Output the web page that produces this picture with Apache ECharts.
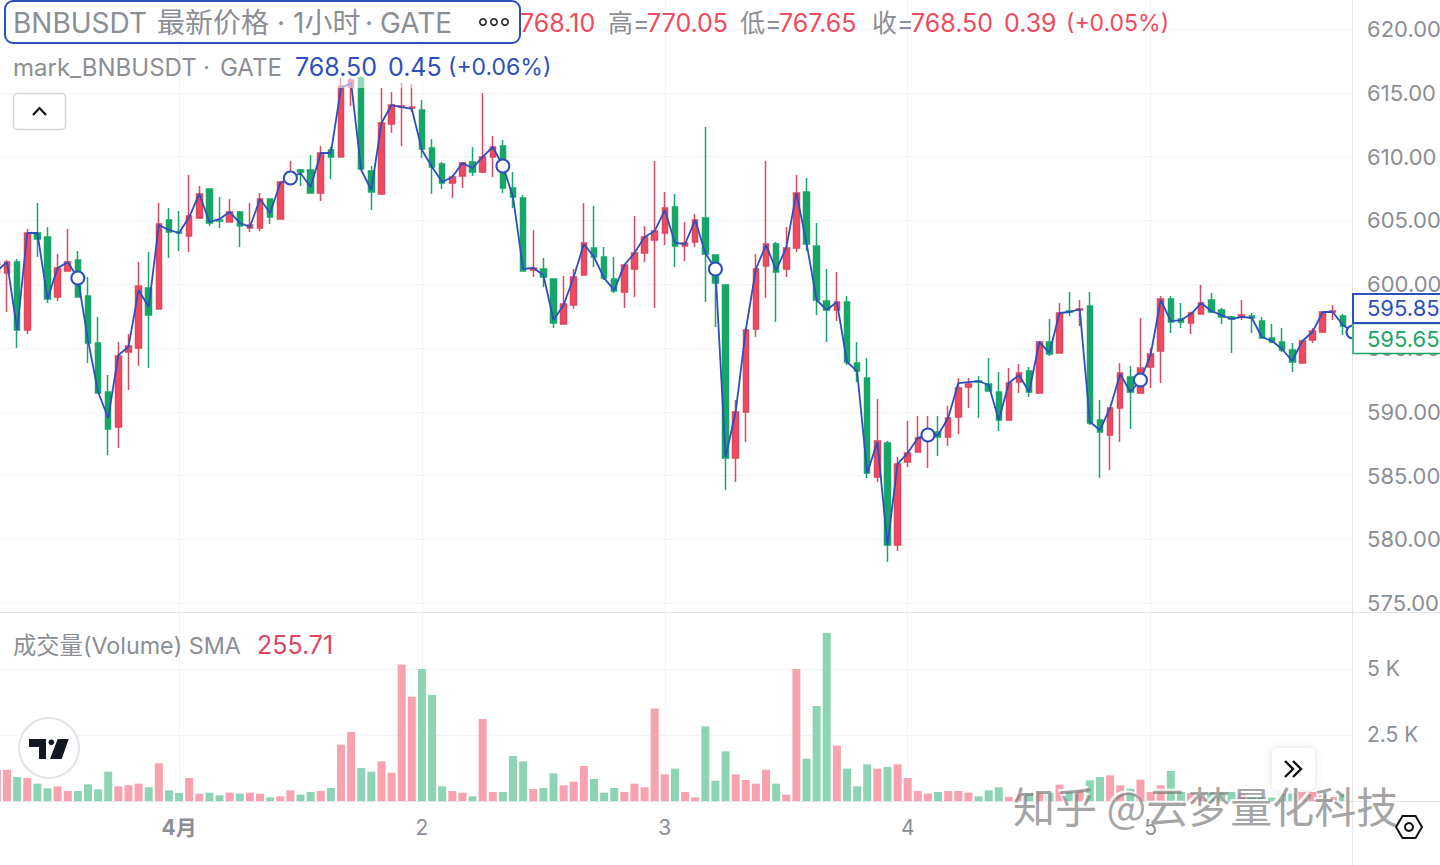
<!DOCTYPE html>
<html>
<head>
<meta charset="utf-8">
<title>BNBUSDT</title>
<style>
  html, body { margin: 0; padding: 0; background: #fff; overflow: hidden; }
  #chart { width: 1440px; height: 865px; }
</style>
<script src="https://cdn.jsdelivr.net/npm/echarts@6/dist/echarts.min.js"></script>
</head>
<body>
<div id="chart"></div>
<script>
// one entry per hour
var opens = [
  600.95,600.87,601.73,596.41,604.01,603.70,598.99,601.03,601.89,599.07,595.39,591.55,588.81,594.68,595.00,599.70,598.05,605.03,604.09,603.77,
  605.19,607.46,605.03,604.87,605.66,604.40,604.40,606.67,605.11,607.85,608.95,608.95,607.14,610.51,609.97,615.45,616.16,608.87,607.07,612.55,
  613.88,613.81,613.65,610.67,609.42,607.93,608.48,609.57,608.79,609.97,610.83,607.54,606.75,601.11,601.19,600.40,596.88,598.37,600.72,602.84,
  602.13,600.40,599.38,601.19,602.44,603.46,604.01,606.05,602.99,603.30,605.19,602.29,599.93,586.38,589.98,596.49,601.42,603.15,601.19,602.84,
  607.22,602.99,598.68,597.98,598.60,593.82,592.65,584.89,587.55,579.56,586.06,586.85,587.95,588.41,588.03,589.59,591.94,592.41,592.18,591.55,
  589.35,592.33,593.19,591.47,595.47,594.61,597.90,597.98,598.29,589.35,588.18,590.30,592.73,591.47,593.51,594.76,598.84,597.27,596.96,597.66,
  598.76,597.98,597.43,597.43,597.51,597.11,595.78,595.47,594.84,593.82,595.62,596.25,597.82,597.51
];
var closes = [
  601.73,601.73,596.41,604.01,603.54,598.84,601.27,601.73,598.99,595.39,591.47,588.65,594.37,595.15,599.86,597.58,604.72,604.09,604.01,605.34,
  607.07,604.80,604.95,605.66,604.56,604.64,606.67,605.26,608.01,608.79,608.79,607.14,610.28,609.97,615.53,616.00,609.03,607.22,612.63,614.04,
  613.96,613.88,610.59,609.18,607.93,608.40,609.50,608.79,609.97,610.75,607.54,606.83,601.03,601.27,600.56,596.96,598.45,600.56,603.23,602.13,
  600.48,599.46,601.50,602.44,603.70,604.17,605.97,602.99,603.23,605.03,602.37,600.09,586.38,589.98,596.41,601.19,603.15,600.95,602.84,607.14,
  603.15,598.76,597.98,598.60,593.90,593.19,585.20,587.71,579.56,585.91,586.77,587.95,588.41,588.03,589.51,591.87,592.18,592.33,591.63,589.35,
  592.25,593.04,591.55,595.47,594.53,597.74,597.82,598.05,589.12,588.41,590.30,593.04,591.55,593.43,594.53,598.84,597.03,597.03,597.74,598.52,
  597.82,597.43,597.27,597.58,597.35,595.78,595.47,594.84,593.90,595.55,596.33,597.82,597.90,596.72
];
var lows = [
  600.80,597.82,595.00,596.10,602.13,598.52,598.68,601.00,598.95,593.82,591.45,586.61,587.16,591.71,593.59,593.43,598.00,602.05,602.60,602.52,
  605.11,604.56,604.40,604.85,602.91,604.09,604.17,604.72,605.10,607.77,607.69,607.10,606.52,608.24,609.95,613.96,608.95,605.81,607.05,611.85,
  610.83,613.49,609.89,607.07,607.46,606.75,607.54,608.48,608.71,608.40,607.14,605.97,601.00,600.56,599.78,596.57,596.85,598.05,600.70,601.34,
  600.33,599.31,598.13,598.99,601.73,598.13,603.07,601.34,601.81,602.91,598.60,596.64,583.87,584.49,587.63,595.86,598.92,597.03,600.56,602.52,
  602.60,597.58,595.47,597.11,593.67,592.33,584.81,584.49,578.23,579.09,585.67,586.83,585.60,586.53,587.32,588.26,590.30,589.51,591.60,588.49,
  589.33,591.47,591.16,591.45,594.37,594.60,597.51,596.72,588.96,584.81,585.44,587.63,588.65,591.45,591.86,592.25,596.17,596.57,596.10,597.63,
  597.74,596.88,594.61,597.19,596.17,595.75,595.39,594.68,593.12,593.80,595.39,596.22,597.19,596.02
];
var highs = [
  601.89,601.89,601.97,604.33,606.36,604.48,602.37,604.33,602.60,600.56,597.43,592.88,595.47,596.10,601.73,602.52,606.36,605.97,605.73,608.55,
  607.69,607.50,606.83,606.67,605.73,606.36,607.14,606.70,608.09,609.65,609.03,610.12,610.83,610.75,616.16,616.16,616.31,609.26,615.37,615.06,
  615.77,615.69,614.43,611.38,609.57,608.55,609.57,610.75,614.98,611.61,611.30,608.79,606.99,604.25,602.05,600.45,600.64,601.19,606.36,606.12,
  602.91,602.13,601.55,605.34,604.56,609.65,607.22,607.07,604.87,605.50,612.32,602.30,599.95,590.92,596.57,602.37,609.65,603.30,604.48,608.55,
  608.32,604.80,601.19,600.95,599.07,595.47,594.21,591.00,587.71,586.46,589.27,589.67,589.67,589.67,590.45,592.65,592.65,592.80,594.21,593.12,
  593.43,593.74,593.51,595.55,597.27,598.52,599.38,598.76,599.38,590.92,590.32,593.82,593.59,597.35,595.00,599.07,599.07,598.52,597.85,599.93,
  599.31,598.13,597.50,598.76,597.74,597.43,596.88,596.57,595.39,595.62,596.57,597.85,598.37,597.66
];
// mark price, has one more point than the candles
var markPrice = [
  601.03,601.73,596.41,604.01,604.01,598.84,601.27,601.73,600.48,595.62,591.55,589.51,594.45,595.08,599.54,598.21,604.64,604.25,604.01,605.26,
  607.07,604.87,605.11,605.66,604.80,604.48,606.67,605.58,607.93,608.32,608.71,607.62,610.28,610.28,615.37,615.77,608.95,607.38,612.63,614.04,
  613.88,613.73,610.51,609.18,608.01,608.40,609.50,609.10,609.97,610.75,609.26,606.83,601.19,601.27,600.72,597.19,598.37,600.56,603.15,602.13,
  600.48,599.54,601.50,602.44,603.70,604.17,605.81,603.23,603.15,605.03,602.44,601.19,586.46,589.98,596.41,601.19,603.07,601.11,602.84,607.14,
  603.23,598.76,597.98,598.60,593.90,593.19,585.20,587.63,579.56,585.91,586.77,587.95,588.18,588.18,589.51,592.25,592.33,592.41,592.10,589.35,
  592.25,592.88,591.55,595.47,594.61,597.74,597.82,598.05,589.20,588.57,590.30,592.96,591.55,592.49,594.45,598.76,597.11,597.19,597.66,598.52,
  597.90,597.58,597.27,597.43,597.35,595.86,595.55,594.92,593.98,595.55,596.25,597.82,597.82,596.80,596.25
];
var volumes = [
  1187,1187,909,871,657,480,556,379,379,632,442,1111,556,594,657,518,1427,404,303,871,
  278,316,215,316,278,316,278,139,177,404,240,341,379,493,2134,2614,1250,1111,1503,1074,
  5166,3953,5001,4016,556,379,316,177,3107,341,341,1705,1503,455,493,1048,594,733,1326,834,
  316,493,341,657,518,3499,1010,1225,341,139,2829,770,1882,1010,796,657,1187,657,240,5001,
  1604,3600,6366,2097,1225,556,1389,1225,1288,1389,871,379,278,341,379,379,316,177,404,518,
  152,253,316,316,316,619,379,404,783,909,973,594,467,808,341,594,1137,341,303,278,
  341,341,341,278,152,152,126,278,278,341,341,215,152,278
];
var priceTicks = [575, 580, 585, 590, 595, 600, 605, 610, 615, 620];
var volumeTicks = [2500, 5000];
var dayLabels = { 18: '4月', 42: '2', 66: '3', 90: '4', 114: '5' };
var markerEvery = 21;
var markerStart = 8;

var red = '#ef4a60';
var green = '#18a668';
var redWick = '#dc4860';
var redSoft = '#f7a2ae';
var greenSoft = '#8dd4b5';
var blue = '#2d4fbd';
var gridColor = '#f3f4f6';
var edgeColor = '#e6e7ea';
var muted = '#8b8e94';
var font = 'Inter, "Noto Sans CJK SC", sans-serif';

var categories = [];
for (var i = 0; i < markPrice.length; i++) {
  categories.push(dayLabels[i] || '');
}
var candles = opens.map(function(o, i) {
  return [o, closes[i], lows[i], highs[i]];
});
var volumeBars = volumes.map(function(v, i) {
  return { value: v, itemStyle: { color: closes[i] >= opens[i] ? redSoft : greenSoft } };
});
function isDay(index) {
  return dayLabels[index] !== undefined;
}

function label(x, y, text, color, size, z) {
  return {
    type: 'text',
    z: z || 120,
    silent: true,
    style: { x: x, y: y, text: text, fill: color, font: (size || 25) + 'px ' + font, verticalAlign: 'middle' }
  };
}
function dot(cx) {
  return { type: 'circle', z: 126, silent: true, shape: { cx: cx, cy: 22, r: 3.2 }, style: { fill: '#fff', stroke: '#222', lineWidth: 1.6 } };
}

var chart = echarts.init(document.getElementById('chart'), null, { renderer: 'svg' });
chart.setOption({
  animation: false,
  backgroundColor: '#fff',
  grid: [
    { left: -8.16, top: 0, width: 1366.2, height: 612, outerBoundsMode: 'none' },
    { left: -8.16, top: 613, width: 1366.2, height: 188, outerBoundsMode: 'none' }
  ],
  xAxis: [0, 1].map(function(n) {
    return {
      type: 'category',
      gridIndex: n,
      data: categories,
      axisTick: { show: false },
      axisLine: { show: false },
      splitLine: {
        show: true,
        alignWithLabel: true,
        interval: isDay,
        lineStyle: { color: gridColor, width: 1 }
      },
      axisLabel: n === 0 ? { show: false } : {
        show: true,
        interval: isDay,
        margin: 16,
        color: muted,
        fontSize: 21,
        fontFamily: font,
        formatter: function(v) {
          return v === '4月' ? '{b|4月}' : v;
        },
        rich: { b: { fontWeight: 700, fontSize: 21, color: muted, fontFamily: font } }
      }
    };
  }),
  yAxis: [
    {
      type: 'value',
      gridIndex: 0,
      position: 'right',
      min: 574.31,
      max: 622.27,
      axisLine: { show: false },
      axisTick: { show: false, customValues: priceTicks },
      splitLine: { show: true, lineStyle: { color: gridColor, width: 1 } },
      axisLabel: {
        customValues: priceTicks,
        margin: 9,
        color: muted,
        fontSize: 22,
        fontFamily: font,
        formatter: function(v) { return v.toFixed(2); }
      }
    },
    {
      type: 'value',
      gridIndex: 1,
      position: 'right',
      min: 0,
      max: 7121,
      axisLine: { show: false },
      axisTick: { show: false, customValues: volumeTicks },
      splitLine: { show: true, lineStyle: { color: gridColor, width: 1 } },
      axisLabel: {
        customValues: volumeTicks,
        margin: 9,
        color: muted,
        fontSize: 21,
        fontFamily: font,
        formatter: function(v) { return (v / 1000) + ' K'; }
      }
    }
  ],
  series: [
    {
      type: 'candlestick',
      xAxisIndex: 0,
      yAxisIndex: 0,
      barWidth: 6,
      data: candles,
      itemStyle: {
        color: red,
        color0: green,
        borderColor: redWick,
        borderColor0: green,
        borderWidth: 1.5
      }
    },
    {
      type: 'line',
      xAxisIndex: 0,
      yAxisIndex: 0,
      data: markPrice,
      showAllSymbol: true,
      symbol: function(v, params) {
        return params.dataIndex % markerEvery === markerStart ? 'circle' : 'none';
      },
      symbolSize: 13,
      lineStyle: { color: blue, width: 1.8 },
      itemStyle: { color: '#fff', borderColor: blue, borderWidth: 2 },
      z: 5
    },
    {
      type: 'bar',
      xAxisIndex: 1,
      yAxisIndex: 1,
      barWidth: 8,
      data: volumeBars
    }
  ],
  graphic: [
    // legend sits on a see-through backing, candles fade behind it
    { type: 'rect', z: 90, silent: true, shape: { x: 285, y: 52, width: 270, height: 36 }, style: { fill: 'rgba(255,255,255,0.55)' } },

    // price scale edge and pane separators
    { type: 'rect', z: 91, silent: true, shape: { x: 1352, y: 0, width: 7, height: 801 }, style: { fill: '#fff' } },
    { type: 'line', z: 92, silent: true, shape: { x1: 1352.5, y1: 0, x2: 1352.5, y2: 865 }, style: { stroke: edgeColor, lineWidth: 1 } },
    { type: 'line', z: 92, silent: true, shape: { x1: 0, y1: 612.5, x2: 1440, y2: 612.5 }, style: { stroke: edgeColor, lineWidth: 1 } },
    { type: 'line', z: 92, silent: true, shape: { x1: 0, y1: 801.5, x2: 1440, y2: 801.5 }, style: { stroke: edgeColor, lineWidth: 1 } },

    // first legend row
    label(520, 23, '768.10', red),
    label(608, 23, '高=', muted),
    label(647, 23, '770.05', red),
    label(740, 23, '低=', muted),
    label(779, 23, '767.65', red),
    label(872, 23, '收=', muted),
    label(911, 23, '768.50', red),
    label(1004, 23, '0.39', red),
    label(1066, 23, '(+0.05%)', red, 23),
    { type: 'rect', z: 125, silent: true, shape: { x: 5, y: 1, width: 515, height: 42, r: 8 }, style: { fill: '#fff', stroke: blue, lineWidth: 2 } },
    label(13, 23, 'BNBUSDT', muted, 28, 126),
    label(157, 23, '最新价格', muted, 28, 126),
    label(277, 23, '·', muted, 28, 126),
    label(293, 23, '1小时', muted, 28, 126),
    label(365, 23, '·', muted, 28, 126),
    label(380, 23, 'GATE', muted, 28, 126),
    dot(483),
    dot(494),
    dot(505),

    // second legend row
    label(13, 67, 'mark_BNBUSDT', muted, 24),
    label(203, 67, '·', muted, 24),
    label(220, 67, 'GATE', muted, 24),
    label(295, 67, '768.50', blue),
    label(388, 67, '0.45', blue),
    label(448, 67, '(+0.06%)', blue, 23),

    // collapse button
    { type: 'rect', z: 120, silent: true, shape: { x: 13.5, y: 93.5, width: 52, height: 36, r: 4 }, style: { fill: '#fff', stroke: '#d4d5d8', lineWidth: 1.5 } },
    { type: 'polyline', z: 121, silent: true, shape: { points: [[33, 115], [39.5, 108], [46, 115]] }, style: { fill: 'none', stroke: '#111', lineWidth: 2.2 } },

    // volume legend
    label(13, 645, '成交量(Volume) SMA', muted, 23.3),
    label(257, 645, '255.71', '#d9485f'),

    // TradingView badge
    { type: 'circle', z: 120, silent: true, shape: { cx: 49, cy: 748, r: 30 }, style: { fill: '#fff', stroke: '#e2e3e6', lineWidth: 2 } },
    { type: 'polygon', z: 121, silent: true, shape: { points: [[29, 739], [46, 739], [46, 759], [39, 759], [39, 747], [29, 747]] }, style: { fill: '#131722' } },
    { type: 'circle', z: 121, silent: true, shape: { cx: 51.3, cy: 742.3, r: 2.8 }, style: { fill: '#131722' } },
    { type: 'polygon', z: 121, silent: true, shape: { points: [[57.7, 739], [68.7, 739], [61.7, 759], [50, 759]] }, style: { fill: '#131722' } },

    // price tags on the scale
    { type: 'rect', z: 122, silent: true, shape: { x: 1353, y: 323.5, width: 100, height: 30 }, style: { fill: '#fff', stroke: green, lineWidth: 1.5 } },
    { type: 'rect', z: 123, silent: true, shape: { x: 1353, y: 294, width: 100, height: 29 }, style: { fill: '#fff', stroke: blue, lineWidth: 2 } },
    label(1367, 308, '595.85', blue, 22, 124),
    label(1367, 339, '595.65', green, 22, 124),

    // scroll to latest button
    { type: 'rect', z: 120, silent: true, shape: { x: 1272, y: 748, width: 43, height: 42, r: 6 }, style: { fill: '#fff', shadowBlur: 8, shadowColor: 'rgba(0,0,0,0.12)' } },
    { type: 'polyline', z: 121, silent: true, shape: { points: [[1285, 761], [1293, 769], [1285, 777]] }, style: { fill: 'none', stroke: '#111', lineWidth: 2.4 } },
    { type: 'polyline', z: 121, silent: true, shape: { points: [[1293, 761], [1301, 769], [1293, 777]] }, style: { fill: 'none', stroke: '#111', lineWidth: 2.4 } },

    // settings hexagon
    { type: 'polygon', z: 121, silent: true, shape: { points: [[1396, 827], [1402.5, 816], [1415.5, 816], [1422, 827], [1415.5, 838], [1402.5, 838]] }, style: { fill: '#fff', stroke: '#111', lineWidth: 2 } },
    { type: 'circle', z: 122, silent: true, shape: { cx: 1409, cy: 827, r: 4 }, style: { fill: '#fff', stroke: '#111', lineWidth: 2 } },

    // zhihu watermark, a white copy behind gives the pressed look
    { type: 'text', z: 130, silent: true, style: { x: 1011, y: 802, text: '知乎 @云梦量化科技', fill: 'rgba(255,255,255,0.9)', font: '42px "Noto Sans CJK SC", sans-serif', verticalAlign: 'middle' } },
    { type: 'text', z: 131, silent: true, style: { x: 1013, y: 804, text: '知乎 @云梦量化科技', fill: 'rgba(125,125,125,0.7)', font: '42px "Noto Sans CJK SC", sans-serif', verticalAlign: 'middle' } }
  ]
});
window.addEventListener('resize', function() { chart.resize(); });
</script>
</body>
</html>
